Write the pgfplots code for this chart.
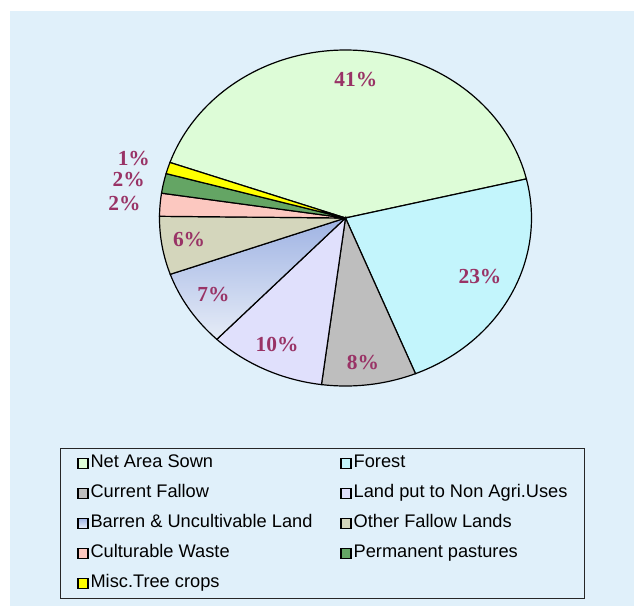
\documentclass[border=0pt]{standalone}
\usepackage{pgfplots}
\pgfplotsset{compat=1.18}
\usepackage{fontspec}
\setmainfont{Liberation Sans}
\newfontfamily\labfont{Liberation Serif}
\definecolor{bgblue}{HTML}{E0F0FA}
\definecolor{cnet}{HTML}{DDFCD7}
\definecolor{cfor}{HTML}{C3F5FC}
\definecolor{ccur}{HTML}{BEBEBE}
\definecolor{cland}{HTML}{E0E0FC}
\definecolor{cbarT}{HTML}{9FB3E3}
\definecolor{cbarB}{HTML}{E6ECF7}
\definecolor{coth}{HTML}{D4D6BC}
\definecolor{ccul}{HTML}{FCC8C0}
\definecolor{cper}{HTML}{64A564}
\definecolor{cmis}{HTML}{FFFF00}
\definecolor{labcol}{HTML}{993366}
\tikzset{lab/.style={font=\labfont\bfseries\fontsize{21.5}{24}\selectfont, text=labcol, inner sep=0pt}}
\newcommand\curang{160.7}
\newcommand{\slice}[3]{%
  \pgfmathsetmacro{\endang}{\curang-3.6*#1}%
  \edef\doslice{\noexpand\addplot[draw=black, line width=1.2bp, #2, domain=\endang:\curang, samples=120] ({cos(x)},{sin(x)}) -- (axis cs:0,0) -- cycle;}%
  \doslice
  \addlegendentry{#3}%
  \global\let\curang\endang
}
\begin{document}
\begin{tikzpicture}
\fill[white] (-345.5bp,218bp) rectangle (288.5bp,-388bp);
\fill[bgblue] (-335.5bp,207bp) rectangle (288.5bp,-388bp);
\begin{axis}[x=186bp, y=168bp, xmin=-1, xmax=1, ymin=-1, ymax=1,
  hide axis, clip=false, anchor=origin, at={(0,0)},
  legend columns=2, legend cell align=left,
  legend style={at={(axis cs:-1.535,-1.369)}, anchor=north west, draw=black!85, line width=0.7bp,
    fill=bgblue, inner xsep=17bp, inner ysep=6.5bp, font=\fontsize{18.3}{21}\selectfont,
    row sep=13bp, column sep=2bp, /tikz/column 2/.style={column sep=28bp},
    nodes={inner sep=0pt, text height=13bp, text depth=4bp}},
  legend image code/.code={\draw[#1, draw=black, line width=1.2bp] (0bp,-5bp) rectangle (10bp,5bp);}]
\slice{40.9}{fill=cnet}{Net Area Sown}
\slice{22.6}{fill=cfor}{Forest}
\slice{8.2}{fill=ccur}{Current Fallow}
\slice{10.1}{fill=cland}{Land put to Non Agri.Uses}
\slice{7.4}{top color=cbarT, bottom color=cbarB}{Barren \& Uncultivable Land}
\slice{5.6}{fill=coth}{Other Fallow Lands}
\slice{2.2}{fill=ccul}{Culturable Waste}
\slice{1.9}{fill=cper}{Permanent pastures}
\slice{1.1}{fill=cmis}{Misc.Tree crops}
\node[lab] at (axis cs:0.056,0.827) {41\%};
\node[lab] at (axis cs:0.723,-0.351) {23\%};
\node[lab] at (axis cs:0.094,-0.863) {8\%};
\node[lab] at (axis cs:-0.368,-0.756) {10\%};
\node[lab] at (axis cs:-0.710,-0.455) {7\%};
\node[lab] at (axis cs:-0.841,-0.131) {6\%};
\node[lab] at (axis cs:-1.188,0.086) {2\%};
\node[lab] at (axis cs:-1.166,0.230) {2\%};
\node[lab] at (axis cs:-1.138,0.352) {1\%};
\end{axis}
\end{tikzpicture}
\end{document}
